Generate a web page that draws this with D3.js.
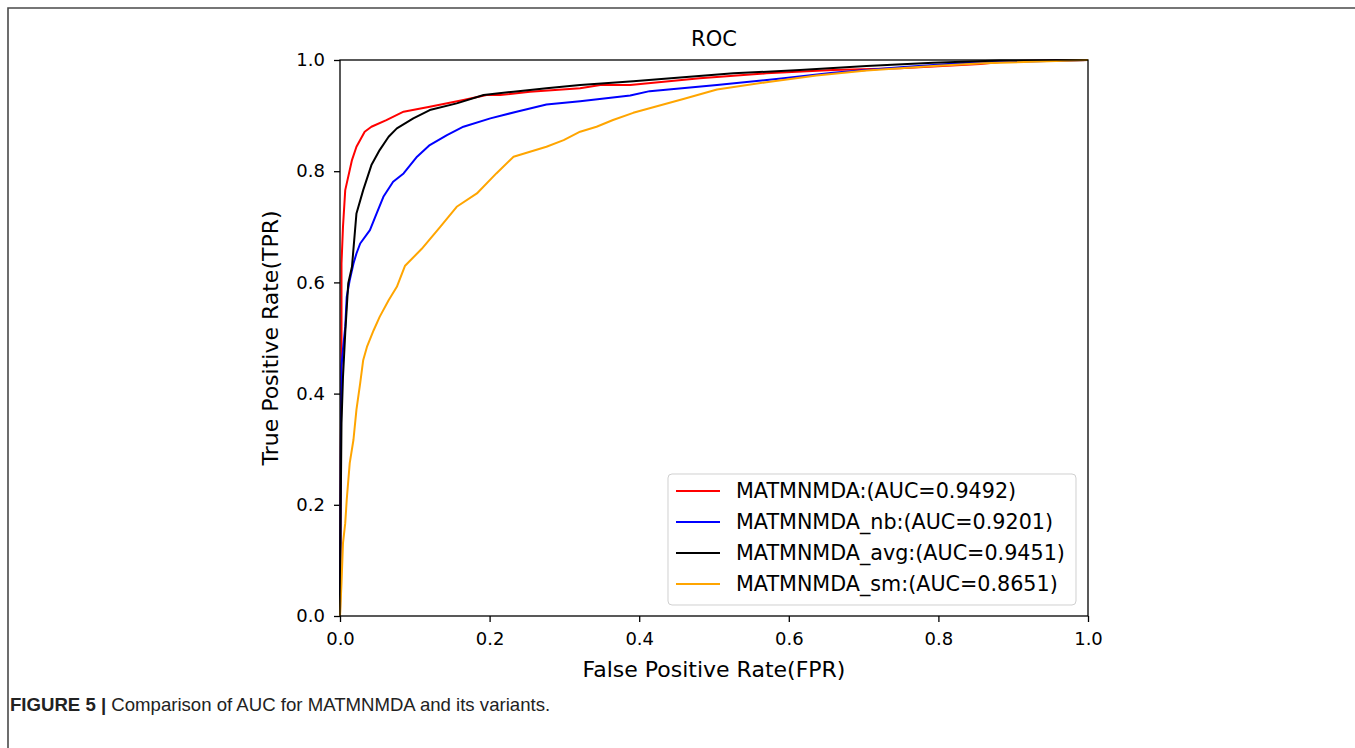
<!DOCTYPE html>
<html>
<head>
<meta charset="utf-8">
<script src="https://cdn.jsdelivr.net/npm/d3@7"></script>
<style>
  body { margin: 0; background: #fff; }
  svg { display: block; }
</style>
</head>
<body>
<svg id="chartSVG"></svg>
<script>
// ROC points: [FPR, TPR]
let rocFull = [[0,0],[0.001,0.30],[0.002,0.46],[0.002,0.634],[0.004,0.70],[0.007,0.766],[0.016,0.820],[0.022,0.844],[0.033,0.871],[0.042,0.880],[0.062,0.892],[0.085,0.907],[0.120,0.916],[0.165,0.928],[0.196,0.937],[0.214,0.937],[0.254,0.943],[0.321,0.949],[0.348,0.955],[0.388,0.955],[0.481,0.967],[0.570,0.976],[0.659,0.982],[0.749,0.985],[0.856,0.993],[0.896,0.998],[1,1]];
let rocNb = [[0,0],[0.001,0.28],[0.002,0.45],[0.004,0.48],[0.007,0.520],[0.009,0.574],[0.013,0.604],[0.018,0.634],[0.022,0.652],[0.027,0.670],[0.040,0.694],[0.049,0.724],[0.058,0.754],[0.071,0.781],[0.085,0.796],[0.103,0.826],[0.120,0.847],[0.143,0.865],[0.165,0.880],[0.201,0.895],[0.236,0.907],[0.276,0.920],[0.321,0.926],[0.388,0.936],[0.414,0.944],[0.504,0.955],[0.593,0.967],[0.659,0.977],[0.749,0.987],[0.838,0.995],[1,1]];
let rocAvg = [[0,0],[0.001,0.20],[0.002,0.347],[0.004,0.43],[0.007,0.509],[0.011,0.598],[0.016,0.628],[0.022,0.724],[0.031,0.766],[0.042,0.811],[0.053,0.838],[0.065,0.862],[0.076,0.877],[0.098,0.895],[0.120,0.910],[0.156,0.922],[0.192,0.937],[0.232,0.943],[0.276,0.949],[0.321,0.955],[0.392,0.962],[0.526,0.976],[0.615,0.982],[0.704,0.989],[0.793,0.995],[0.882,0.999],[1,1]];
let rocSm = [[0,0],[0.002,0.059],[0.004,0.131],[0.007,0.167],[0.009,0.209],[0.013,0.275],[0.018,0.317],[0.022,0.371],[0.027,0.419],[0.031,0.460],[0.036,0.484],[0.045,0.514],[0.053,0.538],[0.065,0.568],[0.076,0.592],[0.087,0.630],[0.109,0.660],[0.134,0.700],[0.156,0.736],[0.183,0.760],[0.209,0.796],[0.232,0.826],[0.254,0.835],[0.276,0.844],[0.299,0.856],[0.321,0.871],[0.343,0.880],[0.365,0.892],[0.392,0.905],[0.459,0.930],[0.504,0.947],[0.570,0.960],[0.637,0.972],[0.704,0.981],[0.793,0.989],[0.860,0.994],[1,1]];

let seriesNames = ['MATMNMDA:(AUC=0.9492)', 'MATMNMDA_nb:(AUC=0.9201)', 'MATMNMDA_avg:(AUC=0.9451)', 'MATMNMDA_sm:(AUC=0.8651)'];
let seriesColors = ['#ff0000', '#0000ff', '#000000', '#ffa500'];
let seriesData = [rocFull, rocNb, rocAvg, rocSm];
let tickVals = [0, 0.2, 0.4, 0.6, 0.8, 1.0];

let widthSVG = 1355;
let heightSVG = 748;
let margins = {
  top: 60,
  bottom: 132,
  right: 267,
  left: 340
}

let width = widthSVG - margins.left - margins.right;
let height = heightSVG - margins.top - margins.bottom;

let SVG = d3.select('svg#chartSVG')
            .attr('width', widthSVG)
            .attr('height', heightSVG);

// page frame (top and left rule)
SVG.append('path')
   .attr('d', `M8,${heightSVG} L8,8 L${widthSVG},8`)
   .attr('fill', 'none')
   .attr('stroke', '#4a4a4a')
   .attr('stroke-width', 1.6);

let SVGG = SVG.append('g')
              .attr('transform', `translate(${margins.left}, ${margins.top})`);

let x = d3.scaleLinear().domain([0, 1]).range([0, width]);
let y = d3.scaleLinear().domain([0, 1]).range([height, 0]);

let tickFmt = d3.format('.1f');

let xAxis = SVGG.append('g')
    .attr('transform', `translate(0, ${height})`)
    .call(d3.axisBottom(x).tickValues(tickVals).tickFormat(tickFmt).tickSize(6).tickSizeOuter(0).tickPadding(10));

let yAxis = SVGG.append('g')
    .call(d3.axisLeft(y).tickValues(tickVals).tickFormat(tickFmt).tickSize(6).tickSizeOuter(0).tickPadding(9));

[xAxis, yAxis].forEach(a => {
  a.select('.domain').remove();
  a.selectAll('line').attr('stroke', '#000').attr('stroke-width', 1.3);
  a.selectAll('text')
   .style('font-family', '"DejaVu Sans", sans-serif')
   .style('font-size', '18px')
   .attr('fill', '#000');
});

// curves
let line = d3.line()
             .x(d => x(d[0]))
             .y(d => y(d[1]));

SVGG.append('g')
    .selectAll('path')
    .data(seriesData)
    .enter()
    .append('path')
    .attr('d', d => line(d))
    .attr('fill', 'none')
    .attr('stroke', (d, i) => seriesColors[i])
    .attr('stroke-width', 2)
    .attr('stroke-linejoin', 'round');

// spines
SVGG.append('rect')
    .attr('width', width)
    .attr('height', height)
    .attr('fill', 'none')
    .attr('stroke', '#000')
    .attr('stroke-width', 1.3);

// title and axis labels
SVGG.append('text')
    .text('ROC')
    .attr('x', width / 2)
    .attr('y', -14)
    .style('text-anchor', 'middle')
    .style('font-family', '"DejaVu Sans", sans-serif')
    .style('font-size', '21px');

SVGG.append('text')
    .text('False Positive Rate(FPR)')
    .attr('x', width / 2)
    .attr('y', height + 61)
    .style('text-anchor', 'middle')
    .style('font-family', '"DejaVu Sans", sans-serif')
    .style('font-size', '22px');

SVGG.append('text')
    .text('True Positive Rate(TPR)')
    .attr('transform', `translate(-62, ${height / 2}) rotate(-90)`)
    .style('text-anchor', 'middle')
    .style('font-family', '"DejaVu Sans", sans-serif')
    .style('font-size', '22px');

// legend, anchored in data space at the lower right of the plot
let legend = SVGG.append('g')
                 .attr('transform', `translate(${x(0.4385)}, ${y(0.2554)})`);

legend.append('rect')
      .attr('width', 408)
      .attr('height', 131)
      .attr('rx', 4)
      .attr('fill', '#fff')
      .attr('fill-opacity', 0.85)
      .attr('stroke', '#d0d0d0')
      .attr('stroke-width', 1);

let legendRows = legend.selectAll('g.row')
                       .data(seriesNames)
                       .enter()
                       .append('g')
                       .attr('transform', (d, i) => `translate(0, ${17 + i * 31})`);

legendRows.append('line')
          .attr('x1', 8)
          .attr('x2', 52)
          .attr('stroke', (d, i) => seriesColors[i])
          .attr('stroke-width', 2);

legendRows.append('text')
          .text(d => d)
          .attr('x', 68)
          .attr('dy', '0.36em')
          .style('font-family', '"DejaVu Sans", sans-serif')
          .style('font-size', '20.7px');

// caption
let caption = SVG.append('text')
                 .attr('x', 10)
                 .attr('y', 711)
                 .style('font-family', '"Liberation Sans", Arial, sans-serif')
                 .style('font-size', '18.6px')
                 .attr('fill', '#222');

caption.append('tspan').text('FIGURE 5 | ').style('font-weight', 'bold');
caption.append('tspan').text('Comparison of AUC for MATMNMDA and its variants.');
</script>
</body>
</html>
